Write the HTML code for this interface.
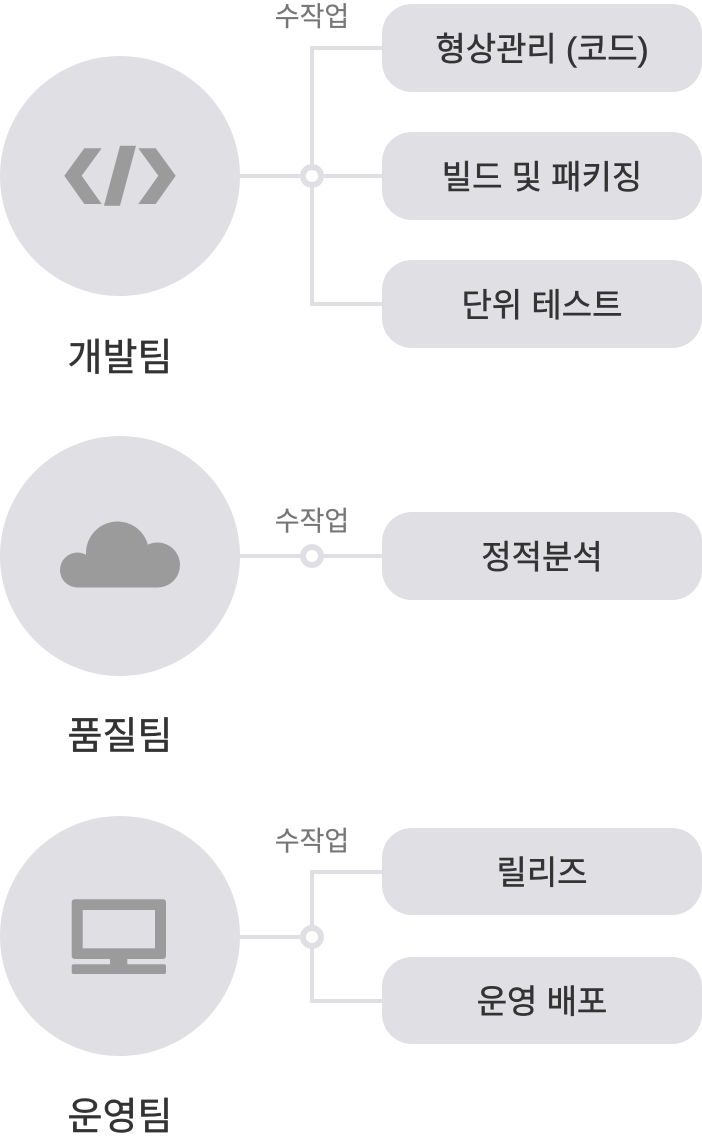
<!DOCTYPE html>
<html>
<head>
<meta charset="utf-8">
<style>
  html, body { margin: 0; padding: 0; background: #ffffff; }
  body { width: 702px; height: 1136px; overflow: hidden; }
  svg { display: block; }
  text { font-family: "Liberation Sans", "Noto Sans CJK KR", sans-serif; }
</style>
</head>
<body>
<svg width="702" height="1136" viewBox="0 0 702 1136" xmlns="http://www.w3.org/2000/svg">
  <g fill="#e0e0e4">
    <circle cx="120" cy="176" r="120"/>
    <circle cx="120" cy="556" r="120"/>
    <circle cx="120" cy="936" r="120"/>
    <rect x="382" y="4" width="320" height="88" rx="30"/>
    <rect x="382" y="132" width="320" height="88" rx="30"/>
    <rect x="382" y="260" width="320" height="88" rx="30"/>
    <rect x="382" y="512" width="320" height="88" rx="30"/>
    <rect x="382" y="828" width="320" height="87" rx="30"/>
    <rect x="382" y="957" width="320" height="87" rx="30"/>
  </g>

  <!-- connectors -->
  <g stroke="#e0e0e4" stroke-width="4" fill="none">
    <line x1="240" y1="176" x2="382" y2="176"/>
    <polyline points="382,48 312,48 312,304 382,304"/>
    <line x1="240" y1="556" x2="382" y2="556"/>
    <line x1="240" y1="937" x2="312" y2="937"/>
    <polyline points="382,872 312,872 312,1001 382,1001"/>
  </g>
  <g stroke="#e0e0e4" stroke-width="6" fill="#ffffff">
    <circle cx="312" cy="176" r="9"/>
    <circle cx="312" cy="556" r="9"/>
    <circle cx="312" cy="937" r="9"/>
  </g>

  <!-- icons -->
  <g fill="#9b9b9b">
    <polygon points="84.3,148.3 101.7,148.3 81.7,175.7 101.7,204 84.3,204 64.3,175.7"/>
    <polygon points="120,145.7 136,145.7 120,205.7 104,205.7"/>
    <polygon points="138.3,148.3 155.7,148.3 175.7,175.7 155.7,204 138.3,204 158.3,175.7"/>
    <circle cx="77.5" cy="570" r="17.5"/>
    <circle cx="117.5" cy="553" r="31.5"/>
    <circle cx="157.5" cy="565" r="22.5"/>
    <rect x="77.5" y="560" width="80" height="27.5"/>
    <rect x="71.7" y="899.3" width="94.3" height="59.7" rx="3"/>
    <rect x="110" y="957" width="17.3" height="9"/>
    <rect x="71.7" y="964.3" width="94.3" height="9.7" rx="2"/>
  </g>
  <rect x="82.7" y="910" width="72.3" height="38.3" fill="#e0e0e4"/>

  <!-- 수작업 labels -->
  <g fill="#767676" font-size="27" text-anchor="middle" stroke="#767676" stroke-width="0.2">
    <text x="312" y="26">수작업</text>
    <text x="312" y="530.5">수작업</text>
    <text x="312" y="850.5">수작업</text>
  </g>

  <!-- box labels -->
  <g fill="#333333" font-size="33" text-anchor="middle" stroke="#333333" stroke-width="0.5">
    <text x="542" y="60.5">형상관리 (코드)</text>
    <text x="542" y="188.5">빌드 및 패키징</text>
    <text x="542" y="316.5">단위 테스트</text>
    <text x="542" y="568.5">정적분석</text>
    <text x="542" y="884">릴리즈</text>
    <text x="542" y="1013">운영 배포</text>
  </g>

  <!-- team labels -->
  <g fill="#333333" font-size="38" text-anchor="middle" stroke="#333333" stroke-width="0.5">
    <text x="120" y="370.5">개발팀</text>
    <text x="120" y="749">품질팀</text>
    <text x="120" y="1129.5">운영팀</text>
  </g>
</svg>
</body>
</html>
